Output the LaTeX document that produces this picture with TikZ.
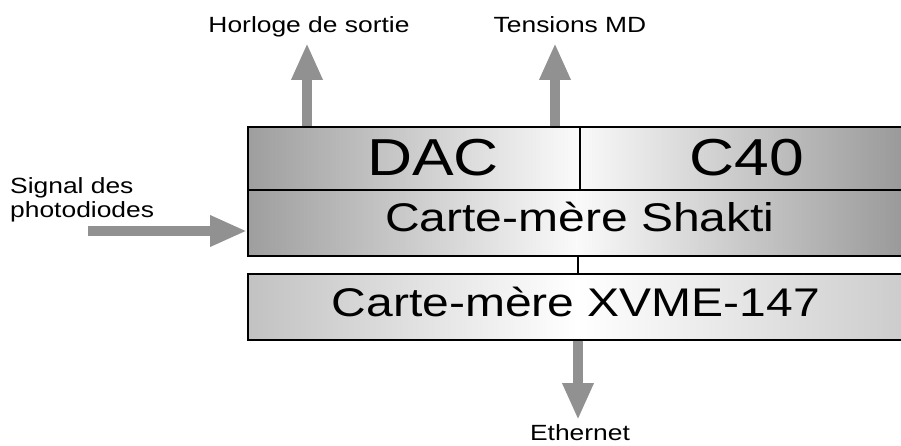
\documentclass[tikz,border=0pt]{standalone}
\usepackage{fontspec}
\setmainfont{Liberation Sans}[FakeStretch=1.2]
\usetikzlibrary{arrows.meta}
\pgfdeclarelayer{bg}
\pgfsetlayers{bg,main}
\begin{document}
\begin{tikzpicture}[x=1pt,y=-1pt,
  board/.style={draw=black, line width=2pt, inner sep=0pt, anchor=north west},
  flow/.style={draw=black!43, line width=10pt, -{Triangle[length=37pt,width=29pt]}},
  lab/.style={font=\fontsize{22}{24}\selectfont, inner sep=0pt},
  big/.style={font=\fontsize{52}{56}\selectfont, inner sep=0pt},
  mid/.style={font=\fontsize{40}{44}\selectfont, inner sep=0pt}]
\useasboundingbox (0,0) rectangle (901,446);
% boards
\node[board, left color=black!38, right color=black!40, middle color=black!2,
      minimum width=657pt, minimum height=129pt] (top) at (247,126) {};
\node[board, left color=black!24, right color=black!20, middle color=white,
      minimum width=657pt, minimum height=66pt] (xvme) at (247,273) {};
\coordinate (rowsplit) at (247,190);
\coordinate (colsplit) at (580,190);
\coordinate (bus) at (578,264);
\draw[line width=2pt] (rowsplit) -- (rowsplit -| top.east);
\draw[line width=1.5pt] (colsplit) -- (colsplit |- top.north);
\draw[line width=1.5pt] (bus |- top.south) -- (bus |- xvme.north);
% texts in boards
\node[big, anchor=base] (dac) at (433,176) {DAC};
\node[big, anchor=base] (c40) at (747,176) {C40};
\node[mid, anchor=base] (shakti) at (580,232) {Carte-mère Shakti};
\node[mid, anchor=base] (xvmelab) at (576,316) {Carte-mère XVME-147};
% outer labels
\node[lab, anchor=base] (clk) at (309,33) {Horloge de sortie};
\node[lab, anchor=base] (md) at (570,33) {Tensions MD};
\node[lab, anchor=base] (eth) at (580,440) {Ethernet};
\node[lab, anchor=north west, align=left] (sig) at (10,177) {Signal des\\photodiodes};
% arrows
\coordinate (clkTip) at (307,43);
\coordinate (mdTip) at (555,43);
\coordinate (sigStart) at (88,231);
\coordinate (ethTip) at (578,420);
\begin{pgfonlayer}{bg}
\draw[flow] (clkTip |- top.north) -- (clkTip);
\draw[flow] (mdTip |- top.north) -- (mdTip);
\draw[flow] (sigStart) -- (sigStart -| top.west);
\draw[flow] (ethTip |- xvme.south) -- (ethTip);
\end{pgfonlayer}
\end{tikzpicture}
\end{document}
